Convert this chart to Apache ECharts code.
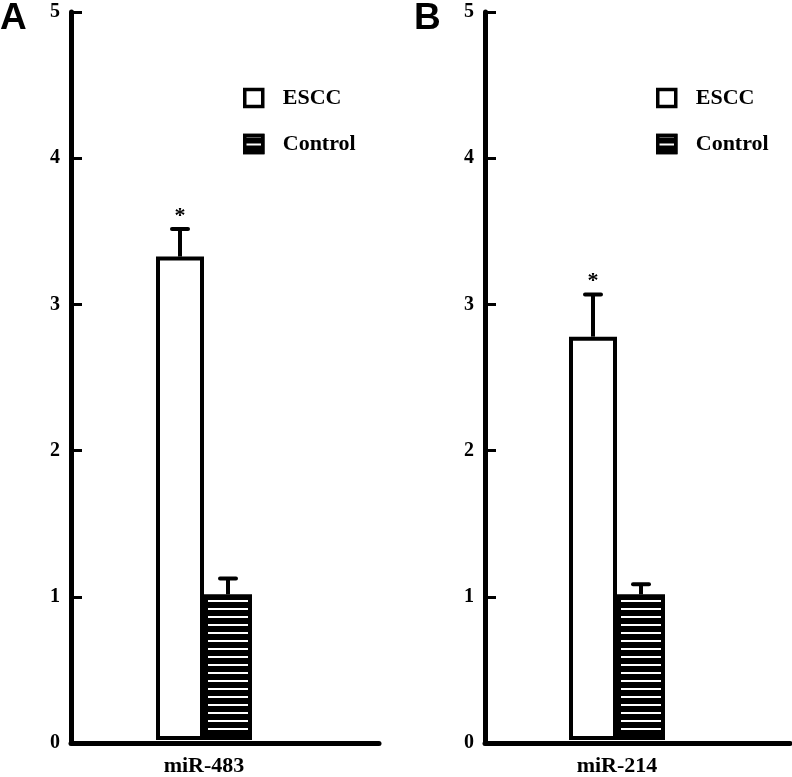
<!DOCTYPE html>
<html><head><meta charset="utf-8">
<script src="https://cdn.jsdelivr.net/npm/echarts@6/dist/echarts.min.js"></script>
<style>html,body{margin:0;padding:0;background:#fff}#c{width:792px;height:777px}</style>
</head><body><div id="c"></div>
<script>
// ---- data ----
var panelLetters = ['A', 'B'];
var categoriesA = ['miR-483'];
var categoriesB = ['miR-214'];
var seriesNames = ['ESCC', 'Control'];
var esccA = [3.32];
var esccAErr = [0.19];
var controlA = [1.0];
var controlAErr = [0.11];
var esccB = [2.77];
var esccBErr = [0.29];
var controlB = [1.0];
var controlBErr = [0.07];
var significantA = [true, false];
var significantB = [true, false];
var yTicks = [0, 1, 2, 3, 4, 5];

var SERIF = '"Liberation Serif", "Times New Roman", serif';
var BW = 48;
var chart = echarts.init(document.getElementById('c'));

var panels = [
  {letter: panelLetters[0], cats: categoriesA, escc: esccA, escErr: esccAErr, ctrl: controlA, ctrlErr: controlAErr, sig: significantA,
   axLeft: 71, axW: 308, barW: 266, legLeft: 238, letterX: 0},
  {letter: panelLetters[1], cats: categoriesB, escc: esccB, escErr: esccBErr, ctrl: controlB, ctrlErr: controlBErr, sig: significantB,
   axLeft: 485, axW: 305, barW: 264, legLeft: 651, letterX: 414}
];

var grid = [], xAxis = [], yAxis = [], series = [], legend = [], graphic = [];
panels.forEach(function (p, i) {
  var gAx = grid.length;
  grid.push({left: p.axLeft, top: 12, width: p.axW, height: 731});
  grid.push({left: p.axLeft, top: 12, width: p.barW, height: 731});
  // axis grid
  xAxis.push({gridIndex: gAx, type: 'category', data: [''], axisLine: {lineStyle: {color: '#000', width: 5}},
    axisTick: {show: false}, axisLabel: {show: false}, splitLine: {show: false}, z: 5});
  yAxis.push({gridIndex: gAx, type: 'value', min: yTicks[0], max: yTicks[yTicks.length - 1], interval: 1,
    axisLine: {show: true, lineStyle: {color: '#000', width: 5}},
    axisTick: {show: true, inside: true, length: 11, lineStyle: {color: '#000', width: 3}},
    axisLabel: {color: '#000', fontFamily: SERIF, fontWeight: 'bold', fontSize: 20, margin: 11},
    splitLine: {show: false}, z: 5});
  // bar grid
  var xb = xAxis.length;
  xAxis.push({gridIndex: gAx + 1, type: 'category', data: p.cats, axisLine: {show: false}, axisTick: {show: false},
    axisLabel: {color: '#000', fontFamily: SERIF, fontWeight: 'bold', fontSize: 22, margin: 15}});
  var yb = yAxis.length;
  yAxis.push({gridIndex: gAx + 1, type: 'value', min: 0, max: 5, show: false});
  series.push({name: seriesNames[0], type: 'bar', xAxisIndex: xb, yAxisIndex: yb, data: p.escc, barWidth: BW, barGap: '0%',
    itemStyle: {color: '#fff', borderColor: '#000', borderWidth: 4}, z: 2});
  series.push({name: seriesNames[1], type: 'bar', xAxisIndex: xb, yAxisIndex: yb, data: p.ctrl, barWidth: BW, barGap: '0%',
    itemStyle: {color: '#000', borderColor: '#000', borderWidth: 4,
      decal: {symbol: 'rect', color: '#fff', dashArrayX: [1, 0], dashArrayY: [2, 5.6], rotation: 0, symbolSize: 1}}, z: 2});
  var errData = [
    [0, p.escc[0], p.escErr[0], -1, p.sig[0] ? 1 : 0],
    [0, p.ctrl[0], p.ctrlErr[0], 1, p.sig[1] ? 1 : 0]
  ];
  series.push({type: 'custom', xAxisIndex: xb, yAxisIndex: yb, data: errData, z: 1, silent: true,
    renderItem: function (params, api) {
      var x = api.coord([api.value(0), 0])[0] + api.value(3) * BW / 2;
      var yBase = api.coord([0, api.value(1)])[1];
      var yTop = api.coord([0, api.value(1) + api.value(2)])[1];
      var ch = [
        {type: 'line', shape: {x1: x, y1: yBase, x2: x, y2: yTop}, style: {stroke: '#000', lineWidth: 4}},
        {type: 'line', shape: {x1: x - 8, y1: yTop, x2: x + 8, y2: yTop}, style: {stroke: '#000', lineWidth: 4, lineCap: 'round'}}
      ];
      if (api.value(4)) ch.push({type: 'text', style: {text: '*', x: x, y: yTop - 2, align: 'center', verticalAlign: 'bottom',
        font: 'bold 22px ' + SERIF, fill: '#000'}});
      return {type: 'group', children: ch};
    }});
  legend.push({orient: 'vertical', left: p.legLeft, top: 82, data: seriesNames, icon: 'rect', itemWidth: 18, itemHeight: 17,
    itemGap: 24, selectedMode: false, itemStyle: {borderWidth: 3.5},
    textStyle: {color: '#000', fontFamily: SERIF, fontWeight: 'bold', fontSize: 22, padding: [0, 0, 0, 15]}});
  graphic.push({type: 'text', left: p.letterX, top: 0, style: {text: p.letter, font: 'bold 37px "Liberation Sans", Arial, sans-serif', fill: '#000'}});
});

chart.setOption({animation: false, backgroundColor: '#fff', grid: grid, xAxis: xAxis, yAxis: yAxis, series: series, legend: legend, graphic: graphic});
</script></body></html>
